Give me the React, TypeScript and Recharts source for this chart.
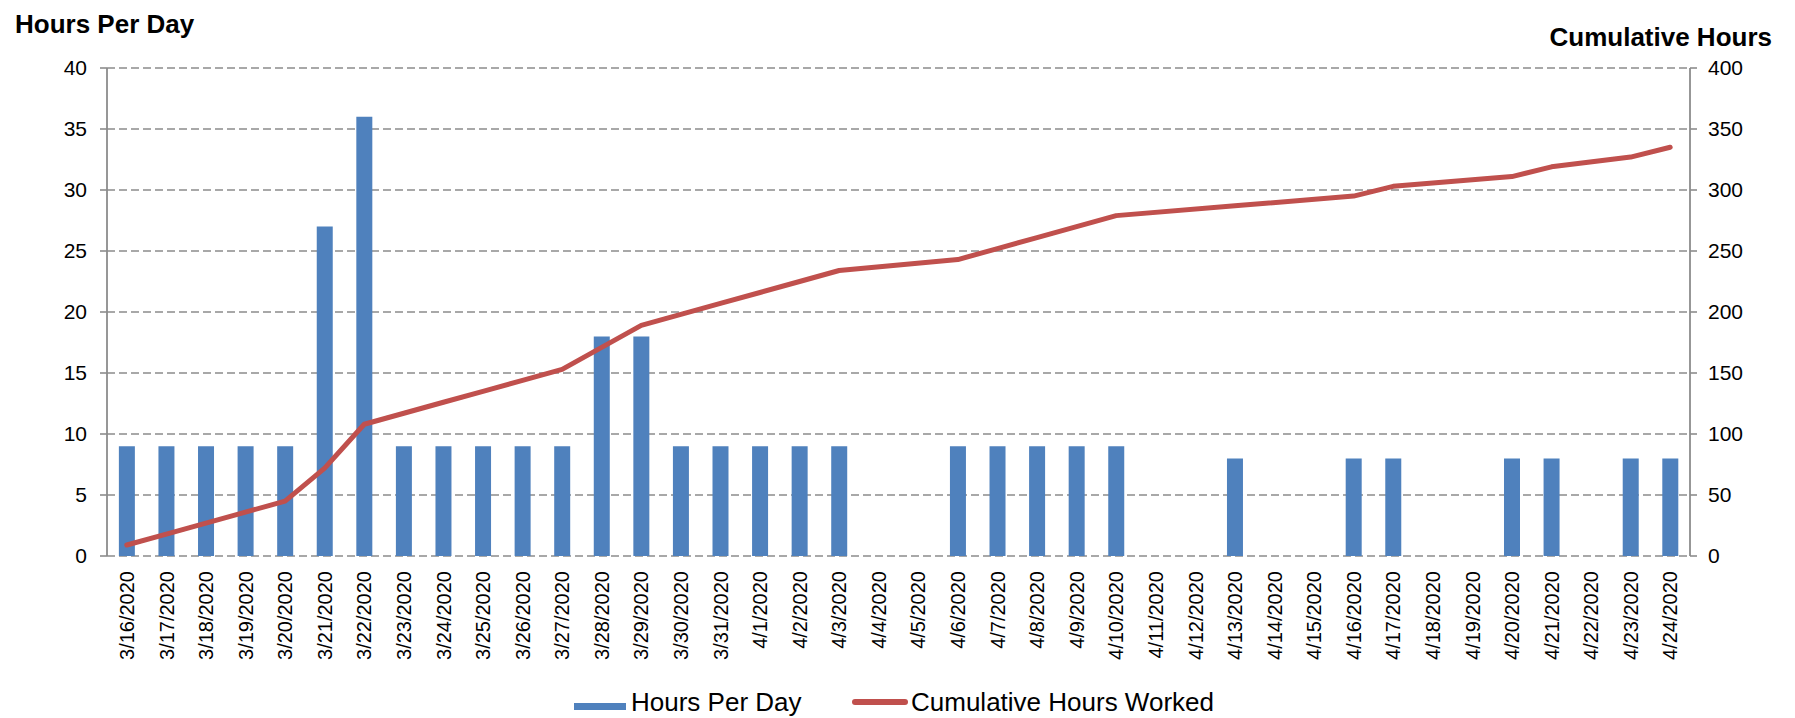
import {
  Bar,
  CartesianGrid,
  ComposedChart,
  Line,
  XAxis,
  YAxis,
} from "recharts";

const dates = [
  "3/16/2020", "3/17/2020", "3/18/2020", "3/19/2020", "3/20/2020",
  "3/21/2020", "3/22/2020", "3/23/2020", "3/24/2020", "3/25/2020",
  "3/26/2020", "3/27/2020", "3/28/2020", "3/29/2020", "3/30/2020",
  "3/31/2020", "4/1/2020", "4/2/2020", "4/3/2020", "4/4/2020",
  "4/5/2020", "4/6/2020", "4/7/2020", "4/8/2020", "4/9/2020",
  "4/10/2020", "4/11/2020", "4/12/2020", "4/13/2020", "4/14/2020",
  "4/15/2020", "4/16/2020", "4/17/2020", "4/18/2020", "4/19/2020",
  "4/20/2020", "4/21/2020", "4/22/2020", "4/23/2020", "4/24/2020",
];

const hoursPerDay = [
  9, 9, 9, 9, 9, 27, 36, 9, 9, 9,
  9, 9, 18, 18, 9, 9, 9, 9, 9, null,
  null, 9, 9, 9, 9, 9, null, null, 8, null,
  null, 8, 8, null, null, 8, 8, null, 8, 8,
];

const cumulativeHours = [
  9, 18, 27, 36, 45, 72, 108, 117, 126, 135,
  144, 153, 171, 189, 198, 207, 216, 225, 234, null,
  null, 243, 252, 261, 270, 279, null, null, 287, null,
  null, 295, 303, null, null, 311, 319, null, 327, 335,
];

const leftTicks = [0, 5, 10, 15, 20, 25, 30, 35, 40];
const rightTicks = [0, 50, 100, 150, 200, 250, 300, 350, 400];
const edgeTicks = dates.map((_, i) => i).concat([dates.length]);

const data = dates.map((date, i) => ({
  date,
  hours: hoursPerDay[i],
  cumulative: cumulativeHours[i],
}));

const FONT = "'Liberation Sans', Arial, sans-serif";
const BLUE = "#4f81bd";
const RED = "#c0504d";
const AXIS = "#8c8c8c";

function DateTick(props: any) {
  const { x, y, payload } = props;
  return (
    <g transform={`translate(${x},${y})`}>
      <text
        transform="rotate(-90)"
        textAnchor="end"
        dy="0.36em"
        fontSize={20}
        fontFamily={FONT}
        fill="#000"
      >
        {payload.value}
      </text>
    </g>
  );
}

const titleStyle = {
  position: "absolute" as const,
  fontSize: 26,
  fontWeight: "bold" as const,
  color: "#000",
  lineHeight: "30px",
  whiteSpace: "nowrap" as const,
};

export default function App() {
  return (
    <div
      style={{
        position: "absolute",
        left: 0,
        top: 0,
        width: 1795,
        height: 718,
        background: "#fff",
        fontFamily: FONT,
      }}
    >
      <div style={{ ...titleStyle, left: 15, top: 9 }}>Hours Per Day</div>
      <div style={{ ...titleStyle, right: 23, top: 22 }}>Cumulative Hours</div>

      <ComposedChart
        width={1795}
        height={718}
        data={data}
        margin={{ top: 68, right: 0, bottom: 62, left: 0 }}
        barCategoryGap="30%"
      >
        <CartesianGrid
          yAxisId="left"
          vertical={false}
          stroke={AXIS}
          strokeWidth={1.6}
          strokeDasharray="8 4"
        />
        <XAxis
          xAxisId="edges"
          type="number"
          domain={[0, dates.length]}
          ticks={edgeTicks}
          height={0}
          tick={false}
          tickSize={7}
          tickLine={{ stroke: AXIS, strokeWidth: 1.6 }}
          axisLine={{ stroke: AXIS, strokeWidth: 1.8 }}
        />
        <XAxis
          xAxisId="cat"
          dataKey="date"
          interval={0}
          height={100}
          tickSize={0}
          tickMargin={15}
          tickLine={false}
          axisLine={false}
          tick={<DateTick />}
        />
        <YAxis
          yAxisId="left"
          orientation="left"
          width={107}
          domain={[0, 40]}
          ticks={leftTicks}
          interval={0}
          tickSize={7}
          tickMargin={13}
          tick={{ fontSize: 21, fontFamily: FONT, fill: "#000" }}
          tickLine={{ stroke: AXIS, strokeWidth: 1.6 }}
          axisLine={{ stroke: AXIS, strokeWidth: 1.8 }}
        />
        <YAxis
          yAxisId="right"
          orientation="right"
          width={105}
          domain={[0, 400]}
          ticks={rightTicks}
          interval={0}
          tickSize={7}
          tickMargin={11}
          tick={{ fontSize: 21, fontFamily: FONT, fill: "#000" }}
          tickLine={{ stroke: AXIS, strokeWidth: 1.6 }}
          axisLine={{ stroke: AXIS, strokeWidth: 1.8 }}
        />
        <Bar
          xAxisId="cat"
          yAxisId="left"
          dataKey="hours"
          name="Hours Per Day"
          fill={BLUE}
          isAnimationActive={false}
        />
        <Line
          xAxisId="cat"
          yAxisId="right"
          type="linear"
          dataKey="cumulative"
          name="Cumulative Hours Worked"
          stroke={RED}
          strokeWidth={5}
          strokeLinecap="round"
          strokeLinejoin="round"
          dot={false}
          activeDot={false}
          connectNulls
          isAnimationActive={false}
        />
      </ComposedChart>

      {/* legend */}
      <div
        style={{
          position: "absolute",
          left: 574,
          top: 703,
          width: 52,
          height: 7,
          background: BLUE,
        }}
      />
      <div style={{ position: "absolute", left: 631, top: 687, fontSize: 26, lineHeight: "30px", color: "#000", whiteSpace: "nowrap" }}>
        Hours Per Day
      </div>
      <div
        style={{
          position: "absolute",
          left: 852,
          top: 699,
          width: 56,
          height: 6,
          borderRadius: 3,
          background: RED,
        }}
      />
      <div style={{ position: "absolute", left: 911, top: 687, fontSize: 26, lineHeight: "30px", color: "#000", whiteSpace: "nowrap" }}>
        Cumulative Hours Worked
      </div>
    </div>
  );
}
